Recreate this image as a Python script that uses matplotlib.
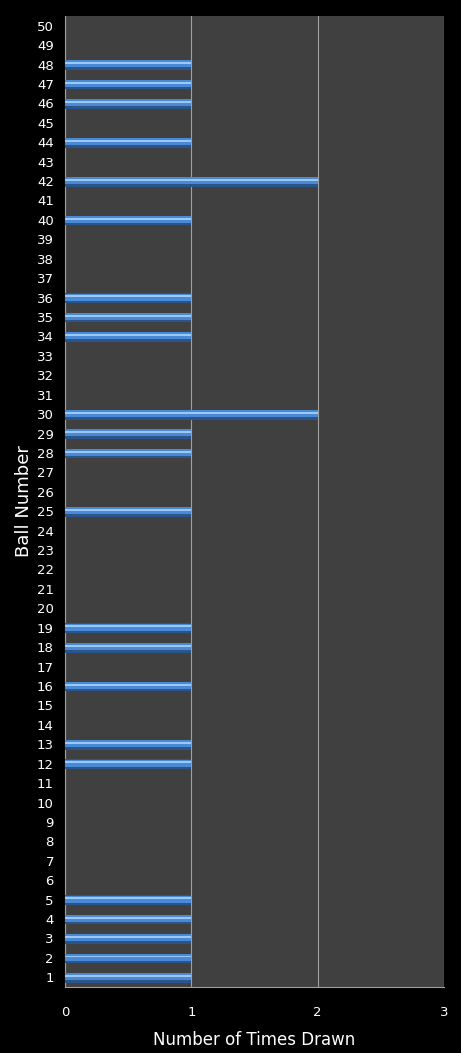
import numpy as np
import matplotlib.pyplot as plt

balls = list(range(1, 51))
drawn = {1: 1, 2: 1, 3: 1, 4: 1, 5: 1, 12: 1, 13: 1, 16: 1, 18: 1, 19: 1,
         25: 1, 28: 1, 29: 1, 30: 2, 34: 1, 35: 1, 36: 1, 40: 1, 42: 2,
         44: 1, 46: 1, 47: 1, 48: 1}
counts = [drawn.get(b, 0) for b in balls]

fig = plt.figure(figsize=(4.61, 10.53), dpi=100, facecolor='black')
ax = fig.add_axes([65 / 461, 1 - 987 / 1053, 379 / 461, 971 / 1053])
ax.set_facecolor('#404040')

y = np.array(balls)
# bevelled bar: dark body, mid blue, light strip near the top
ax.barh(y - 0.03, counts, height=0.5, color='#2b558a', linewidth=0, zorder=3)
ax.barh(y + 0.03, counts, height=0.36, color='#4a89d6', linewidth=0, zorder=4)
ax.barh(y + 0.07, counts, height=0.1, color='#9cc8f4', linewidth=0, zorder=5)

ax.set_xlim(0, 3)
ax.set_ylim(0.5, 50.5)
ax.set_xticks([0, 1, 2, 3])
ax.set_yticks(balls)
ax.grid(axis='x', color='#a0a0a0', linewidth=0.8, zorder=1)

for side in ['top', 'right']:
    ax.spines[side].set_visible(False)
for side in ['left', 'bottom']:
    ax.spines[side].set_color('#a0a0a0')

ax.tick_params(colors='white', labelsize=9.5, length=0, pad=8)
ax.tick_params(axis='x', pad=14)
ax.set_xlabel('Number of Times Drawn', color='white', fontsize=12, labelpad=8)
ax.set_ylabel('Ball Number', color='white', fontsize=13, labelpad=3)

fig.savefig('out.png', dpi=100, facecolor='black')
